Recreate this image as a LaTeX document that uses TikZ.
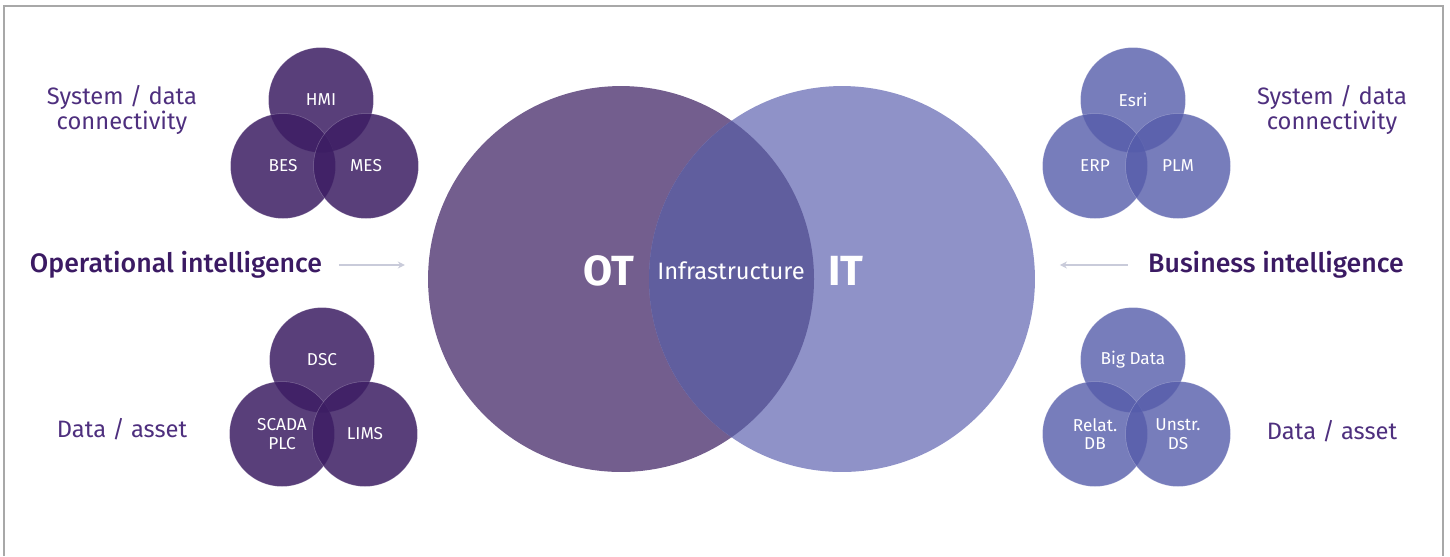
\documentclass[tikz,border=0pt]{standalone}
\usepackage{fontspec}
\setmainfont{Fira Sans}
\newfontfamily\medfont{Fira Sans Medium}
\usetikzlibrary{arrows.meta}

\definecolor{otfill}{HTML}{735E8E}
\definecolor{itfill}{HTML}{8F92C8}
\definecolor{infrafill}{HTML}{605E9E}
\definecolor{otsmall}{RGB}{60,29,99}
\definecolor{itsmall}{RGB}{85,92,170}
\definecolor{headcol}{HTML}{3B1A63}
\definecolor{labelcol}{HTML}{4E2F7E}
\definecolor{arrowcol}{HTML}{C9CBDA}
\definecolor{framecol}{HTML}{A8A8A8}

\begin{document}
\begin{tikzpicture}[x=0.02cm, y=-0.02cm,
    smallot/.style={circle, fill=otsmall, fill opacity=0.85, text opacity=1, text=white, draw=white, draw opacity=0.25, line width=0.3pt, minimum size=2.1cm, inner sep=0pt, align=center, font=\fontsize{9.8}{10.6}\selectfont},
    smallit/.style={smallot, fill=itsmall, fill opacity=0.8},
    bigcircle/.style={circle, minimum size=7.72cm, inner sep=0pt},
    bigtxt/.style={text=white, font=\fontsize{24}{26}\selectfont\bfseries},
    infratxt/.style={text=white, font=\fontsize{13.5}{15}\selectfont},
    sidetxt/.style={text=labelcol, align=center, font=\fontsize{13.5}{14.7}\selectfont},
    headtxt/.style={text=headcol, font=\fontsize{15.2}{17}\selectfont\medfont},
    arrowln/.style={draw=arrowcol, line width=1.2pt, -{Stealth[length=4pt, width=4pt]}}]
    \useasboundingbox (0,0) rectangle (1450,556);
    % Frame
    \draw[framecol, line width=1pt] (4,556) -- (4,6) -- (1443,6) -- (1443,556);

    % OT / IT
    \node[bigcircle, fill=otfill] (ot) at (621,279) {};
    \node[bigcircle, fill=itfill] (it) at (842,279) {};
    \begin{scope}
        \clip (ot.center) circle[radius=193];
        \fill[infrafill] (it.center) circle[radius=193];
    \end{scope}
    \node[bigtxt] (otlbl) at (609,271) {OT};
    \node[infratxt] (infra) at (731,271) {Infrastructure};
    \node[bigtxt] (itlbl) at (846,271) {IT};

    % Operational side
    \node[smallot] (hmi) at (321,100) {HMI};
    \node[smallot] (bes) at (283,166) {BES};
    \node[smallot] (mes) at (366,166) {MES};
    \node[smallot] (dsc) at (322,360) {DSC};
    \node[smallot] (scada) at (282,434) {SCADA\\PLC};
    \node[smallot] (lims) at (365,434) {LIMS};

    % Business side
    \node[smallit] (esri) at (1133,100) {Esri};
    \node[smallit] (erp) at (1095,166) {ERP};
    \node[smallit] (plm) at (1178,166) {PLM};
    \node[smallit] (bigdata) at (1133,360) {Big Data};
    \node[smallit] (relat) at (1095,434) {Relat.\\DB};
    \node[smallit] (unstr) at (1178,434) {Unstr.\\DS};

    % Labels
    \node[sidetxt] (sysl) at (122,110) {System / data\\connectivity};
    \node[sidetxt] (sysr) at (1332,110) {System / data\\connectivity};
    \node[sidetxt] (datal) at (122,429) {Data / asset};
    \node[sidetxt] (datar) at (1332,431) {Data / asset};
    \node[headtxt] (opint) at (176,265) {Operational intelligence};
    \node[headtxt] (busint) at (1276,265) {Business intelligence};

    % Arrows
    \draw[arrowln, shorten <=6pt, shorten >=13pt] (opint.east) -- (opint.east -| ot.west);
    \draw[arrowln, shorten <=8pt, shorten >=14pt] (busint.west) -- (busint.west -| it.east);
\end{tikzpicture}
\end{document}
